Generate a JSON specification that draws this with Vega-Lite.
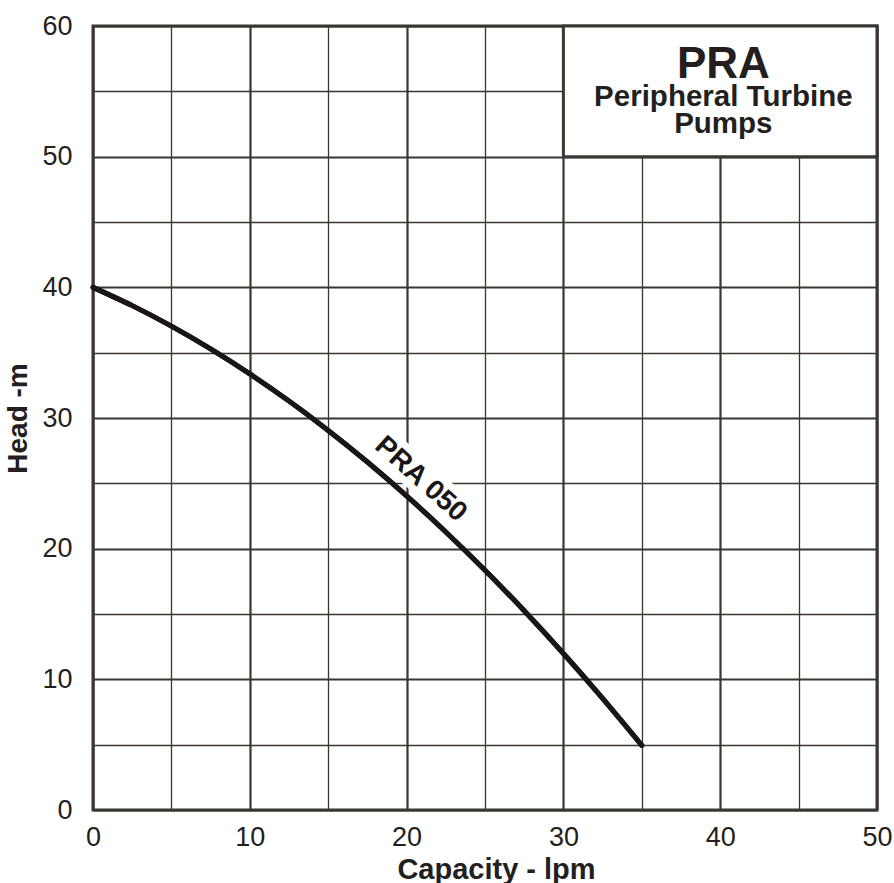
{
  "$schema": "https://vega.github.io/schema/vega-lite/v6.json",
  "width": 784,
  "height": 784,
  "autosize": {"type": "none"},
  "padding": {"left": 93, "top": 26, "right": 17, "bottom": 73},
  "config": {
    "font": "Liberation Sans",
    "view": {"stroke": "#3a3632", "strokeWidth": 3},
    "background": "white"
  },
  "datasets": {
    "curve": [
      {"q": 0, "h": 40}, {"q": 2.5, "h": 38.6}, {"q": 5, "h": 37.03}, {"q": 7.5, "h": 35.29},
      {"q": 10, "h": 33.38}, {"q": 12.5, "h": 31.3}, {"q": 15, "h": 29.05}, {"q": 17.5, "h": 26.63},
      {"q": 20, "h": 24.04}, {"q": 22.5, "h": 21.28}, {"q": 25, "h": 18.35}, {"q": 27.5, "h": 15.25},
      {"q": 30, "h": 11.98}, {"q": 32.5, "h": 8.54}, {"q": 35, "h": 4.95}
    ]
  },
  "layer": [
    {
      "data": {"name": "curve"},
      "mark": {"type": "line", "color": "#1a1616", "strokeWidth": 5, "interpolate": "natural", "strokeCap": "round"},
      "encoding": {
        "x": {
          "field": "q", "type": "quantitative",
          "scale": {"domain": [0, 50], "nice": false, "zero": false},
          "axis": {
            "values": [0, 5, 10, 15, 20, 25, 30, 35, 40, 45, 50],
            "labelExpr": "datum.value % 10 === 0 ? datum.label : ''",
            "grid": true,
            "gridColor": "#3a3632",
            "gridOpacity": 1,
            "gridWidth": {"condition": {"test": "datum.value % 10 === 0", "value": 2.2}, "value": 1.3},
            "ticks": false,
            "domain": false,
            "labelFontSize": 27,
            "labelColor": "#231f20",
            "labelPadding": 14,
            "labelFlush": false,
            "labelOverlap": false,
            "title": "Capacity - lpm",
            "titleFontSize": 29,
            "titleFontWeight": "bold",
            "titleColor": "#231f20",
            "titleX": 403,
            "titleY": 68,
            "titleAlign": "center",
            "titleBaseline": "alphabetic"
          }
        },
        "y": {
          "field": "h", "type": "quantitative",
          "scale": {"domain": [0, 60], "nice": false, "zero": false},
          "axis": {
            "values": [0, 5, 10, 15, 20, 25, 30, 35, 40, 45, 50, 55, 60],
            "labelExpr": "datum.value % 10 === 0 ? datum.label : ''",
            "grid": true,
            "gridColor": "#3a3632",
            "gridOpacity": 1,
            "gridWidth": {"condition": {"test": "datum.value % 10 === 0", "value": 2.2}, "value": 1.3},
            "ticks": false,
            "domain": false,
            "labelFontSize": 27,
            "labelColor": "#231f20",
            "labelPadding": 21,
            "labelFlush": false,
            "labelOverlap": false,
            "title": "Head -m",
            "titleFontSize": 28,
            "titleFontWeight": "bold",
            "titleColor": "#231f20",
            "titlePadding": 9
          }
        }
      }
    },
    {
      "data": {"values": [{"q": 20.9, "h": 25.3, "label": "PRA 050"}]},
      "mark": {"type": "text", "fontSize": 28, "fontWeight": "bold", "angle": 42, "align": "center", "baseline": "middle", "stroke": "white", "strokeWidth": 14, "fill": "white"},
      "encoding": {"x": {"field": "q", "type": "quantitative"}, "y": {"field": "h", "type": "quantitative"}, "text": {"field": "label"}}
    },
    {
      "data": {"name": "curve"},
      "mark": {"type": "line", "color": "#1a1616", "strokeWidth": 5, "interpolate": "natural", "strokeCap": "round"},
      "encoding": {"x": {"field": "q", "type": "quantitative"}, "y": {"field": "h", "type": "quantitative"}}
    },
    {
      "data": {"values": [{"q": 20.9, "h": 25.3, "label": "PRA 050"}]},
      "mark": {"type": "text", "fontSize": 28, "fontWeight": "bold", "angle": 42, "align": "center", "baseline": "middle", "color": "#1a1616"},
      "encoding": {"x": {"field": "q", "type": "quantitative"}, "y": {"field": "h", "type": "quantitative"}, "text": {"field": "label"}}
    },
    {
      "data": {"values": [{"x1": 30, "x2": 50, "y1": 50, "y2": 60}]},
      "mark": {"type": "rect", "fill": "white", "stroke": "#3a3632", "strokeWidth": 3},
      "encoding": {
        "x": {"field": "x1", "type": "quantitative"}, "x2": {"field": "x2"},
        "y": {"field": "y1", "type": "quantitative"}, "y2": {"field": "y2"}
      }
    },
    {
      "data": {"values": [{"q": 40.2, "h": 56.05, "label": "PRA"}]},
      "mark": {"type": "text", "fontSize": 44, "fontWeight": "bold", "align": "center", "baseline": "alphabetic", "color": "#231f20"},
      "encoding": {"x": {"field": "q", "type": "quantitative"}, "y": {"field": "h", "type": "quantitative"}, "text": {"field": "label"}}
    },
    {
      "data": {"values": [{"q": 40.2, "h": 53.86, "label": "Peripheral Turbine"}, {"q": 40.2, "h": 51.8, "label": "Pumps"}]},
      "mark": {"type": "text", "fontSize": 29.5, "fontWeight": "bold", "align": "center", "baseline": "alphabetic", "color": "#231f20"},
      "encoding": {"x": {"field": "q", "type": "quantitative"}, "y": {"field": "h", "type": "quantitative"}, "text": {"field": "label"}}
    }
  ]
}
